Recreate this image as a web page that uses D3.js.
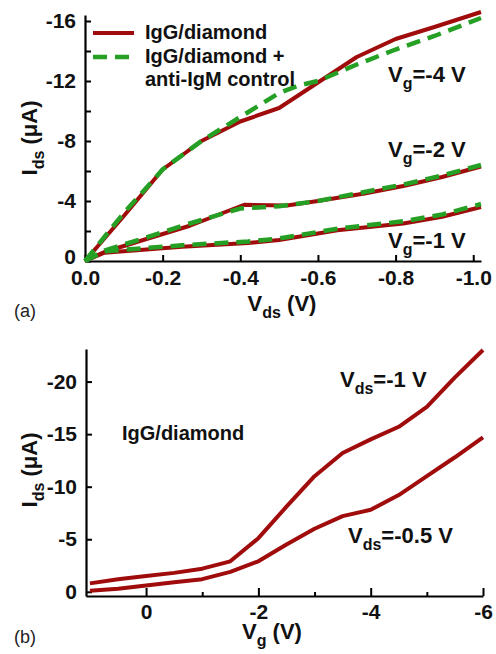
<!DOCTYPE html>
<html>
<head>
<meta charset="utf-8">
<script src="https://cdn.jsdelivr.net/npm/d3@7"></script>
<style>
  html, body { margin: 0; padding: 0; background: #fff; }
  svg text { font-family: "Liberation Sans", Arial, sans-serif; }
</style>
</head>
<body>
<svg id="chart" width="496" height="654"></svg>
<script>
// ---------- Panel (a) data: Ids (µA) vs Vds (V) ----------
const vdsRedG4   = [0, -0.05, -0.1, -0.2, -0.3, -0.4, -0.5, -0.6, -0.7, -0.8, -0.9, -1.02];
const idsRedG4   = [0, -1.5, -3.0, -6.1, -8.0, -9.3, -10.2, -11.9, -13.6, -14.8, -15.6, -16.6];
const vdsGreenG4 = [0, -0.05, -0.1, -0.2, -0.3, -0.4, -0.5, -0.55, -0.6, -0.7, -0.8, -0.9, -1.02];
const idsGreenG4 = [0, -1.6, -3.2, -6.1, -8.0, -9.6, -11.2, -11.7, -12.0, -13.1, -14.1, -15.0, -16.2];

const vdsRedG2   = [0, -0.05, -0.15, -0.27, -0.41, -0.52, -0.6, -0.72, -0.82, -0.92, -1.02];
const idsRedG2   = [0, -0.6, -1.4, -2.35, -3.75, -3.7, -4.0, -4.5, -5.0, -5.6, -6.3];
const vdsGreenG2 = [0, -0.05, -0.15, -0.27, -0.4, -0.5, -0.6, -0.72, -0.82, -0.92, -1.02];
const idsGreenG2 = [0, -0.7, -1.5, -2.5, -3.5, -3.65, -4.0, -4.6, -5.1, -5.7, -6.4];

const vdsRedG1   = [0, -0.05, -0.25, -0.42, -0.5, -0.65, -0.82, -0.92, -1.02];
const idsRedG1   = [0, -0.55, -0.95, -1.2, -1.4, -2.05, -2.5, -2.95, -3.6];
const vdsGreenG1 = [0, -0.05, -0.25, -0.42, -0.5, -0.65, -0.82, -0.92, -1.02];
const idsGreenG1 = [0, -0.65, -1.05, -1.3, -1.5, -2.15, -2.65, -3.1, -3.8];

const aXTicks = [0, -0.2, -0.4, -0.6, -0.8, -1.0];
const aXTickLabels = ["0.0", "-0.2", "-0.4", "-0.6", "-0.8", "-1.0"];
const aYTicks = [0, -4, -8, -12, -16];
const aYTickLabels = ["0", "-4", "-8", "-12", "-16"];
const aYMinor = [-2, -6, -10, -14];

// ---------- Panel (b) data: Ids (µA) vs Vg (V) ----------
const vgB        = [1.0, 0.5, 0, -0.5, -1.0, -1.5, -2.0, -2.5, -3.0, -3.5, -4.0, -4.5, -5.0, -5.5, -6.0];
const idsVds1    = [-0.8, -1.2, -1.5, -1.8, -2.2, -2.9, -5.1, -8.1, -11.0, -13.2, -14.5, -15.7, -17.6, -20.4, -23.0];
const idsVds05   = [-0.1, -0.3, -0.6, -0.9, -1.2, -1.9, -2.9, -4.5, -6.0, -7.2, -7.8, -9.2, -11.0, -12.8, -14.7];

const bXTicks = [0, -2, -4, -6];
const bXTickLabels = ["0", "-2", "-4", "-6"];
const bXMinor = [-1, -3, -5];
const bYTicks = [0, -5, -10, -15, -20];
const bYTickLabels = ["0", "-5", "-10", "-15", "-20"];

// ---------- styles ----------
const RED = "#a00c0c";
const GREEN = "#25a025";
const FONT = "\"Liberation Sans\", Arial, sans-serif";
const TICK_FS = 21, TITLE_FS = 22, ANN_FS = 22, SUB_FS = 16, LEG_FS = 20;

const svg = d3.select("#chart");

function zipPts(xs, ys) { return xs.map((x, i) => [x, ys[i]]); }

function styleAxis(g) {
  g.select(".domain").attr("stroke", "#000").attr("stroke-width", 2.2);
  g.selectAll(".tick line").attr("stroke", "#000").attr("stroke-width", 2);
  g.selectAll(".tick text")
    .attr("font-family", FONT).attr("font-weight", "bold")
    .attr("font-size", TICK_FS).attr("fill", "#111");
}

function subLabel(sel, main, sub, rest, subSize, shift) {
  sel.append("tspan").text(main);
  sel.append("tspan").attr("font-size", subSize).attr("dy", shift).text(sub);
  sel.append("tspan").attr("dy", -shift).text(rest);
}

function boldText(x, y) {
  return svg.append("text").attr("x", x).attr("y", y)
    .attr("font-family", FONT).attr("font-weight", "bold").attr("fill", "#111");
}

// =================== Panel (a) ===================
const xa = d3.scaleLinear().domain([0, -1.02]).range([85, 481]);
const ya = d3.scaleLinear().domain([0, -16.4]).range([261, 15]);

const lineA = d3.line().x(d => xa(d[0])).y(d => ya(d[1]));

const gaX = svg.append("g").attr("transform", `translate(0,${ya(0)})`)
  .call(d3.axisBottom(xa).tickValues(aXTicks)
    .tickFormat((d, i) => aXTickLabels[i]).tickSizeInner(-6).tickSizeOuter(0).tickPadding(8));
styleAxis(gaX);
gaX.selectAll(".tick text").attr("dy", "0.74em");

const gaY = svg.append("g").attr("transform", `translate(${xa(0)},0)`)
  .call(d3.axisLeft(ya).tickValues(aYTicks)
    .tickFormat((d, i) => aYTickLabels[i]).tickSizeInner(-6).tickSizeOuter(0).tickPadding(9));
styleAxis(gaY);
gaY.selectAll(".tick text").filter(d => d === 0).attr("dy", "0.1em");
const gaYm = svg.append("g").attr("transform", `translate(${xa(0)},0)`)
  .call(d3.axisLeft(ya).tickValues(aYMinor).tickFormat("").tickSizeInner(-6).tickSizeOuter(0));
styleAxis(gaYm);
gaYm.select(".domain").remove();
gaX.raise();

const redA = [zipPts(vdsRedG4, idsRedG4), zipPts(vdsRedG2, idsRedG2), zipPts(vdsRedG1, idsRedG1)];
const greenA = [zipPts(vdsGreenG4, idsGreenG4), zipPts(vdsGreenG2, idsGreenG2), zipPts(vdsGreenG1, idsGreenG1)];

svg.append("g").selectAll("path").data(redA).join("path")
  .attr("d", lineA).attr("fill", "none").attr("stroke", RED)
  .attr("stroke-width", 4).attr("stroke-linejoin", "round");
svg.append("g").selectAll("path").data(greenA).join("path")
  .attr("d", lineA).attr("fill", "none").attr("stroke", GREEN)
  .attr("stroke-width", 4.5).attr("stroke-dasharray", "14,8");

// legend
const leg = svg.append("g");
leg.append("line").attr("x1", 93).attr("x2", 134).attr("y1", 33).attr("y2", 33)
  .attr("stroke", RED).attr("stroke-width", 4);
leg.append("line").attr("x1", 93).attr("x2", 134).attr("y1", 57).attr("y2", 57)
  .attr("stroke", GREEN).attr("stroke-width", 4.5).attr("stroke-dasharray", "14,8");
const legText = [["IgG/diamond", 39], ["IgG/diamond +", 63], ["anti-IgM control", 86]];
leg.selectAll("text").data(legText).join("text")
  .attr("x", 145).attr("y", d => d[1]).text(d => d[0])
  .attr("font-family", FONT).attr("font-weight", "bold").attr("font-size", LEG_FS).attr("fill", "#111");

// annotations
const annA = [["-4 V", 82], ["-2 V", 157], ["-1 V", 248]];
annA.forEach(([v, y]) => {
  const t = boldText(388, y).attr("font-size", ANN_FS);
  subLabel(t, "V", "g", "=" + v, SUB_FS, 7);
});

// axis titles
const xaT = boldText(282, 311).attr("text-anchor", "middle").attr("font-size", TITLE_FS);
subLabel(xaT, "V", "ds", " (V)", SUB_FS, 7);
const yaT = svg.append("text").attr("transform", "translate(37,138) rotate(-90)").attr("text-anchor", "middle")
  .attr("font-family", FONT).attr("font-weight", "bold").attr("font-size", TITLE_FS).attr("fill", "#111");
subLabel(yaT, "I", "ds", " (μA)", SUB_FS, 7);

svg.append("text").attr("x", 14).attr("y", 317).text("(a)")
  .attr("font-family", FONT).attr("font-size", 18).attr("fill", "#222");

// =================== Panel (b) ===================
const xb = d3.scaleLinear().domain([1.07, -6]).range([86, 483]);
const yb = d3.scaleLinear().domain([0.4, -23.1]).range([596, 349]);
const lineB = d3.line().x(d => xb(d[0])).y(d => yb(d[1]));

const gbX = svg.append("g").attr("transform", `translate(0,${yb(0.4)})`)
  .call(d3.axisBottom(xb).tickValues(bXTicks)
    .tickFormat((d, i) => bXTickLabels[i]).tickSizeInner(-8).tickSizeOuter(0).tickPadding(7));
styleAxis(gbX);
gbX.selectAll(".tick text").attr("dy", "0.74em");
const gbXm = svg.append("g").attr("transform", `translate(0,${yb(0.4)})`)
  .call(d3.axisBottom(xb).tickValues(bXMinor).tickFormat("").tickSizeInner(-4).tickSizeOuter(0));
styleAxis(gbXm);
gbXm.select(".domain").remove();

const gbY = svg.append("g").attr("transform", `translate(${xb(1.07)},0)`)
  .call(d3.axisLeft(yb).tickValues(bYTicks)
    .tickFormat((d, i) => bYTickLabels[i]).tickSizeInner(-6).tickSizeOuter(0).tickPadding(9));
styleAxis(gbY);

svg.append("g").selectAll("path")
  .data([zipPts(vgB, idsVds1), zipPts(vgB, idsVds05)]).join("path")
  .attr("d", lineB).attr("fill", "none").attr("stroke", RED)
  .attr("stroke-width", 4).attr("stroke-linejoin", "round");

const t1 = boldText(340, 387).attr("font-size", ANN_FS);
subLabel(t1, "V", "ds", "=-1 V", SUB_FS, 7);
const t2 = boldText(348, 543).attr("font-size", ANN_FS);
subLabel(t2, "V", "ds", "=-0.5 V", SUB_FS, 7);
boldText(122, 440).attr("font-size", LEG_FS).text("IgG/diamond");

const xbT = boldText(272, 639).attr("text-anchor", "middle").attr("font-size", TITLE_FS);
subLabel(xbT, "V", "g", " (V)", SUB_FS, 7);
const ybT = svg.append("text").attr("transform", "translate(37,470) rotate(-90)").attr("text-anchor", "middle")
  .attr("font-family", FONT).attr("font-weight", "bold").attr("font-size", TITLE_FS).attr("fill", "#111");
subLabel(ybT, "I", "ds", " (μA)", SUB_FS, 7);

svg.append("text").attr("x", 14).attr("y", 643).text("(b)")
  .attr("font-family", FONT).attr("font-size", 18).attr("fill", "#222");
</script>
</body>
</html>
